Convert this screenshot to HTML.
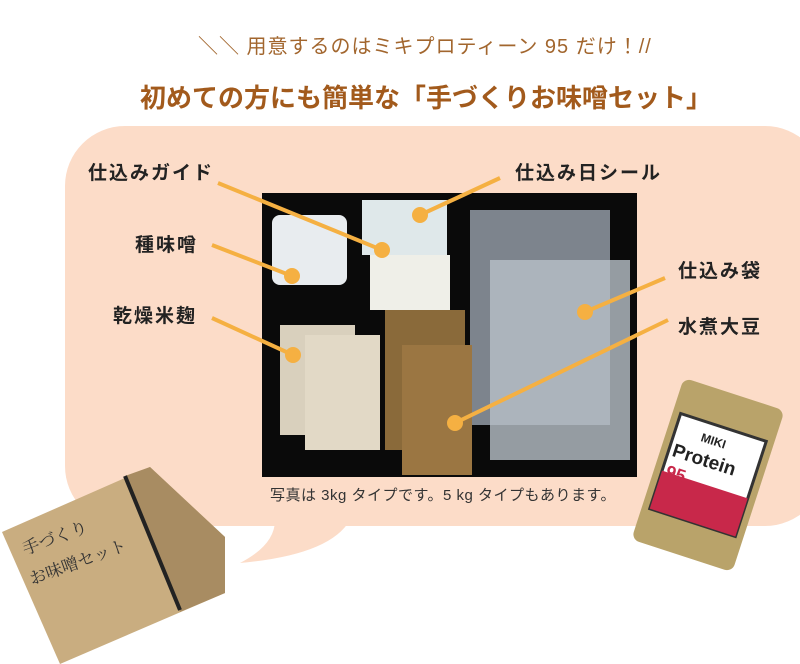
<!DOCTYPE html>
<html><head><meta charset="utf-8"><style>
body{margin:0;width:800px;height:664px;background:#fff;position:relative;overflow:hidden;font-family:"Liberation Sans","Noto Sans CJK JP",sans-serif}
.a{position:absolute}
.lbl{position:absolute;font-weight:bold;font-size:19px;color:#222;white-space:nowrap;letter-spacing:2px}
</style></head><body>
<div class="a" style="left:198px;top:30px;font-size:20px;color:#a2662e;white-space:nowrap;letter-spacing:1px">＼＼ 用意するのはミキプロティーン 95 だけ！//</div>
<div class="a" style="left:140px;top:78px;font-size:26px;font-weight:bold;color:#a25a1c;white-space:nowrap">初めての方にも簡単な「手づくりお味噌セット」</div>
<svg class="a" style="left:0;top:0" width="800" height="664">
<rect x="65" y="126" width="760" height="400" rx="60" fill="#fcdcc8"/>
<path d="M275 520 L350 520 Q330 555 240 563 Q275 545 275 520Z" fill="#fcdcc8"/>
<rect x="262" y="193" width="375" height="284" fill="#0a0a0a"/>
<rect x="272" y="215" width="75" height="70" rx="8" fill="#e8ecef"/>
<rect x="362" y="200" width="85" height="55" fill="#dfe8ea"/>
<rect x="370" y="255" width="80" height="55" fill="#efefe8"/>
<rect x="470" y="210" width="140" height="215" fill="#9aa3ae" opacity=".8"/>
<rect x="490" y="260" width="140" height="200" fill="#b8c0c8" opacity=".8"/>
<rect x="280" y="325" width="75" height="110" fill="#d9d0bd"/>
<rect x="305" y="335" width="75" height="115" fill="#e2d9c6"/>
<rect x="385" y="310" width="80" height="140" fill="#8a6a3a"/>
<rect x="402" y="345" width="70" height="130" fill="#9b7642"/>
<g stroke="#f5b042" stroke-width="4" fill="#f5b042">
<line x1="218" y1="183" x2="382" y2="250"/><circle cx="382" cy="250" r="6"/>
<line x1="500" y1="178" x2="420" y2="215"/><circle cx="420" cy="215" r="6"/>
<line x1="212" y1="245" x2="292" y2="276"/><circle cx="292" cy="276" r="6"/>
<line x1="212" y1="318" x2="293" y2="355"/><circle cx="293" cy="355" r="6"/>
<line x1="665" y1="278" x2="585" y2="312"/><circle cx="585" cy="312" r="6"/>
<line x1="668" y1="320" x2="455" y2="423"/><circle cx="455" cy="423" r="6"/>
</g>
<polygon points="150,467 225,537 225,593 60,664 2,532" fill="#c9ad80"/>
<polygon points="125,476 150,467 225,537 225,593 180,612" fill="#a88c62"/>
<line x1="125" y1="476" x2="180" y2="610" stroke="#222" stroke-width="4"/>
<text x="25" y="555" font-size="17" fill="#333" font-family="Noto Serif CJK SC,serif" transform="rotate(-20 25 555)">手づくり</text>
<text x="32" y="585" font-size="17" fill="#333" font-family="Noto Serif CJK SC,serif" transform="rotate(-20 32 585)">お味噌セット</text>
<g transform="rotate(18 708 475)">
<rect x="655" y="390" width="106" height="170" rx="8" fill="#b9a36a"/>
<rect x="663" y="425" width="90" height="100" fill="#fff" stroke="#333" stroke-width="3"/>
<rect x="663" y="485" width="90" height="40" fill="#c8284a"/>
<text x="690" y="445" font-size="12" font-weight="bold" fill="#222">MIKI</text>
<text x="667" y="468" font-size="19" font-weight="bold" fill="#222">Protein</text>
<text x="667" y="490" font-size="18" font-weight="bold" fill="#c8284a">95</text>
</g>
</svg>
<div class="lbl" style="left:88px;top:158px">仕込みガイド</div>
<div class="lbl" style="left:515px;top:158px">仕込み日シール</div>
<div class="lbl" style="left:135px;top:230px">種味噌</div>
<div class="lbl" style="left:678px;top:256px">仕込み袋</div>
<div class="lbl" style="left:113px;top:301px">乾燥米麹</div>
<div class="lbl" style="left:678px;top:312px">水煮大豆</div>
<div class="a" style="left:270px;top:484px;font-size:15px;color:#333;white-space:nowrap;letter-spacing:.5px">写真は 3kg タイプです。5 kg タイプもあります。</div>
</body></html>
